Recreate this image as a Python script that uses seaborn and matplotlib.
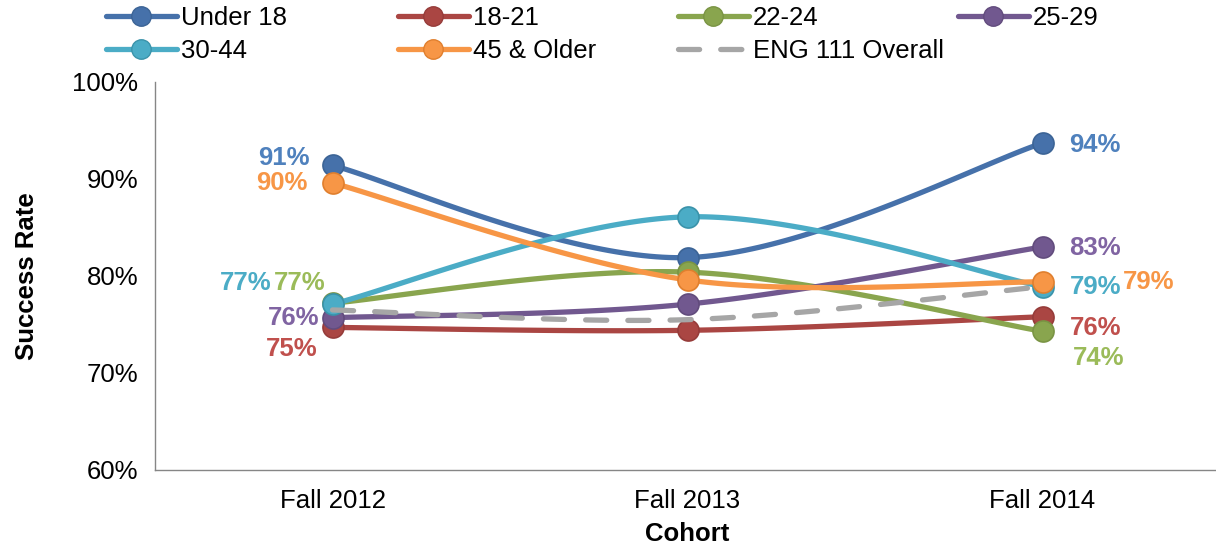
import numpy as np
import pandas as pd
import matplotlib
matplotlib.use("Agg")
import matplotlib.pyplot as plt
from matplotlib.lines import Line2D
import seaborn as sns

# data
cohorts = ["Fall 2012", "Fall 2013", "Fall 2014"]
under_18 = [91.4, 81.9, 93.7]
age_18_21 = [74.7, 74.4, 75.8]
age_22_24 = [77.2, 80.4, 74.3]
age_25_29 = [75.7, 77.1, 83.0]
age_30_44 = [77.1, 86.1, 78.9]
age_45_up = [89.6, 79.6, 79.4]
eng111_overall = [76.5, 75.5, 78.9]

series_names = ["Under 18", "18-21", "22-24", "25-29", "30-44", "45 & Older", "ENG 111 Overall"]
series_vals = [under_18, age_18_21, age_22_24, age_25_29, age_30_44, age_45_up, eng111_overall]

# styling
line_col = {"Under 18": "#4671AA", "18-21": "#AA4643", "22-24": "#89A54E", "25-29": "#71588F",
            "30-44": "#4BACC6", "45 & Older": "#F79646", "ENG 111 Overall": "#A6A6A6"}
mark_edge = {"Under 18": "#3C6496", "18-21": "#963C3A", "22-24": "#7A9444", "25-29": "#624C7D",
             "30-44": "#3A93AA", "45 & Older": "#E07F2E"}
label_col = {"Under 18": "#4F81BD", "18-21": "#C0504D", "22-24": "#9BBB59", "25-29": "#8064A2",
             "30-44": "#4BACC6", "45 & Older": "#F79646"}
# label offsets in pixels for (first point, last point)
label_off = {"Under 18": [(-23, 7), (27, -2)],
             "18-21": [(-15, -22), (27, -11)],
             "22-24": [(-7, 20), (30, -27)],
             "25-29": [(-13, 0), (27, -1)],
             "30-44": [(-61, 21), (27, 0)],
             "45 & Older": [(-25, 0), (80, 0)]}


def smooth(xs, ys, n=60):
    pts = np.column_stack([xs, ys]).astype(float)
    out = []
    for i in range(len(pts) - 1):
        p0 = pts[max(i - 1, 0)]
        p1 = pts[i]
        p2 = pts[i + 1]
        p3 = pts[min(i + 2, len(pts) - 1)]
        c1 = p1 + (p2 - p0) / 6
        c2 = p2 - (p3 - p1) / 6
        t = np.linspace(0, 1, n)[:, None]
        seg = (1 - t) ** 3 * p1 + 3 * (1 - t) ** 2 * t * c1 + 3 * (1 - t) * t ** 2 * c2 + t ** 3 * p2
        out.append(seg if i == 0 else seg[1:])
    return np.vstack(out)


sns.set_style("white")
plt.rcParams["font.family"] = ["Liberation Sans", "DejaVu Sans"]
plt.rcParams["text.color"] = "black"
plt.rcParams["axes.labelcolor"] = "black"
plt.rcParams["xtick.color"] = "black"
plt.rcParams["ytick.color"] = "black"

fig = plt.figure(figsize=(12.16, 5.45), dpi=100)
ax = fig.add_axes([155 / 1216, 1 - 470 / 545, 1065 / 1216, 388 / 545])

x = np.arange(len(cohorts))
fs = 18.5
for z, (name, vals) in enumerate(zip(series_names, series_vals)):
    curve = smooth(x, vals)
    cdf = pd.DataFrame({"x": curve[:, 0], "y": curve[:, 1]})
    if name == "ENG 111 Overall":
        sns.lineplot(data=cdf, x="x", y="y", ax=ax, sort=False, estimator=None, color=line_col[name],
                     linewidth=3.8, zorder=2 + z)
        ax.lines[-1].set_dashes((4, 4))
        ax.lines[-1].set_dash_capstyle("round")
        continue
    sns.lineplot(data=cdf, x="x", y="y", ax=ax, sort=False, estimator=None, color=line_col[name],
                 linewidth=3.8, zorder=2 + z)
    ax.lines[-1].set_solid_capstyle("round")
    pdf = pd.DataFrame({"x": x, "y": vals})
    sns.scatterplot(data=pdf, x="x", y="y", ax=ax, s=230, color=line_col[name],
                    edgecolor=mark_edge[name], linewidth=1.2, zorder=2 + z)
    for idx, off in zip([0, len(vals) - 1], label_off[name]):
        ha = "right" if idx == 0 else "left"
        ax.annotate(f"{round(vals[idx])}%", (x[idx], vals[idx]), xytext=off, textcoords="offset pixels",
                    ha=ha, va="center", fontsize=fs, fontweight="bold", color=label_col[name], zorder=20)

ax.set_xlim(-0.5, 2.5)
ax.set_ylim(60, 100)
ax.set_yticks([60, 70, 80, 90, 100])
ax.set_yticklabels([f"{v}%" for v in [60, 70, 80, 90, 100]], fontsize=fs)
ax.set_xticks(x)
ax.set_xticklabels(cohorts, fontsize=fs)
ax.set_xticks([-0.5, 0.5, 1.5, 2.5], minor=True)
ax.tick_params(axis="x", which="major", length=0, pad=14)
ax.tick_params(axis="x", which="minor", length=7, color="#868686", width=1)
ax.tick_params(axis="y", length=6, color="#868686", width=1, pad=6)
for s in ["top", "right"]:
    ax.spines[s].set_visible(False)
for s in ["left", "bottom"]:
    ax.spines[s].set_color("#868686")
    ax.spines[s].set_linewidth(1)
ax.grid(False)
ax.set_xlabel("Cohort", fontsize=fs, fontweight="bold", labelpad=6)
ax.set_ylabel("Success Rate", fontsize=fs, fontweight="bold", labelpad=24)

handles = []
for name in series_names:
    if name == "ENG 111 Overall":
        h = Line2D([], [], color=line_col[name], lw=3.8, dashes=(4, 4), dash_capstyle="round")
    else:
        h = Line2D([], [], color=line_col[name], lw=3.8, marker="o", markersize=14,
                   markerfacecolor=line_col[name], markeredgecolor=mark_edge[name])
    handles.append(h)

# legend laid out in 4 equal columns, rows filled left to right
columns = [[0, 4], [1, 5], [2, 6], [3]]
col_left = [106, 398, 678, 958]
for cols, left in zip(columns, col_left):
    fig.legend([handles[i] for i in cols], [series_names[i] for i in cols],
               loc="upper left", bbox_to_anchor=(left / 1216, 1 - 6 / 545), frameon=False, fontsize=fs,
               handlelength=2.75, handletextpad=0.15, labelspacing=0.36, borderpad=0, borderaxespad=0)

fig.savefig("out.png", dpi=100)
